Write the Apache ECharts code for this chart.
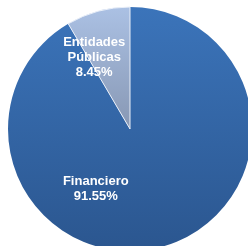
<!DOCTYPE html>
<html>
<head>
<meta charset="utf-8">
<script src="https://cdn.jsdelivr.net/npm/echarts@6/dist/echarts.min.js"></script>
<style>
  html, body { margin: 0; padding: 0; background: #fff; }
  #chart { width: 248px; height: 246px; }
</style>
</head>
<body>
<div id="chart"></div>
<script>
var categories = ['Financiero', 'Entidades\nPúblicas'];
var shares = [91.55, 8.45];

var fills = [
    new echarts.graphic.LinearGradient(0, 0, 0, 1, [
        {offset: 0, color: '#3b74ba'},
        {offset: 1, color: '#2b568f'}
    ]),
    new echarts.graphic.LinearGradient(0, 0, 0, 1, [
        {offset: 0, color: '#abc1e4'},
        {offset: 1, color: '#8797b3'}
    ])
];
// los textos no caen justo en el centro de cada sector
var labelShift = [[-51, -2], [-19, -10]];

var myChart = echarts.init(document.getElementById('chart'));

var option = {
    animation: false,
    series: [{
        type: 'pie',
        center: [130, 129],
        radius: 122,
        startAngle: 90,
        clockwise: true,
        label: {
            position: 'inside',
            color: '#fff',
            fontFamily: 'Liberation Sans, Arial',
            fontWeight: 'bold',
            fontSize: 13,
            lineHeight: 15,
            formatter: function (p) {
                return p.name + '\n' + p.value.toFixed(2) + '%';
            }
        },
        labelLine: {show: false},
        data: categories.map(function (c, i) {
            return {
                name: c,
                value: shares[i],
                itemStyle: {
                    color: fills[i],
                    borderColor: i === 1 ? '#e8eef8' : 'transparent',
                    borderWidth: i === 1 ? 1 : 0
                },
                label: {offset: labelShift[i]}
            };
        })
    }]
};
myChart.setOption(option);
</script>
</body>
</html>
